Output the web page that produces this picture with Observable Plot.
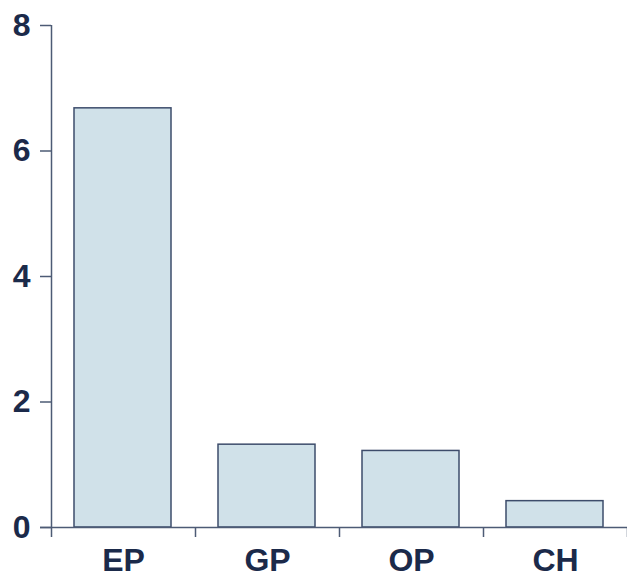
<!DOCTYPE html>
<html>
<head>
<meta charset="utf-8">
<script src="https://cdn.jsdelivr.net/npm/d3@7"></script>
<script src="https://cdn.jsdelivr.net/npm/@observablehq/plot@0.6"></script>
<style>
  html, body { margin: 0; padding: 0; background: #fff; }
  svg { display: block; }
</style>
</head>
<body>
<div id="chart"></div>
<script>
const categories = ["EP", "GP", "OP", "CH"];
const values = [6.68, 1.32, 1.22, 0.42];
const yTicks = [0, 2, 4, 6, 8];

const data = categories.map((c, i) => ({cat: c, i, value: values[i]}));
const boundaries = d3.range(categories.length + 1);

const textColor = "#1b2a4a";
const axisColor = "#4d5b75";
const font = "'Liberation Sans', Arial, sans-serif";

const chart = Plot.plot({
  width: 627,
  height: 577,
  marginLeft: 51,
  marginRight: 0,
  marginTop: 25,
  marginBottom: 50,
  style: {fontFamily: font, background: "#fff"},
  x: {type: "linear", domain: [0, categories.length], axis: null},
  y: {type: "linear", domain: [0, 8], axis: null},
  marks: [
    Plot.rectY(data, {
      x1: "i", x2: d => d.i + 1, y: "value",
      insetLeft: 23, insetRight: 24,
      fill: "#d0e1e9", stroke: "#3d4c6b", strokeWidth: 1.5
    }),
    Plot.ruleY([0], {stroke: axisColor, strokeWidth: 1.5, insetLeft: -11}),
    Plot.ruleX([0], {stroke: axisColor, strokeWidth: 1.5, insetBottom: -10}),
    Plot.ruleX(boundaries.slice(1), {x: d => d, y1: 0, y2: 0, insetBottom: -10, stroke: axisColor, strokeWidth: 1.5}),
    Plot.axisY({
      ticks: yTicks, tickSize: 11, tickPadding: 10,
      stroke: axisColor, strokeWidth: 1.5,
      fill: textColor, fontSize: 32, fontWeight: "bold", label: null
    }),
    Plot.text(data, {
      x: d => d.i + 0.5, y: 0, text: "cat", dy: 33,
      fill: textColor, fontSize: 32, fontWeight: "bold"
    })
  ]
});
document.getElementById("chart").appendChild(chart);
</script>
</body>
</html>
